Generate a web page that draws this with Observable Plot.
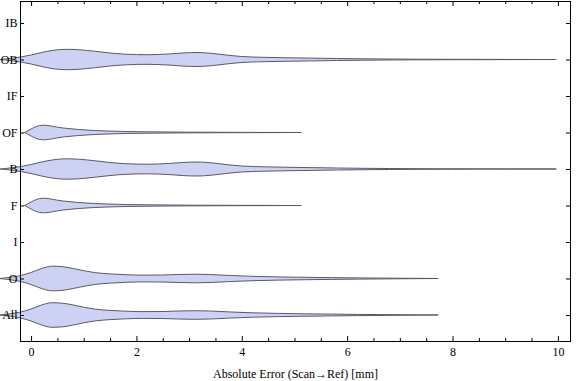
<!DOCTYPE html>
<html><head><meta charset="utf-8">
<script src="https://cdn.jsdelivr.net/npm/d3@7"></script>
<script src="https://cdn.jsdelivr.net/npm/@observablehq/plot@0.6"></script>
<style>body{margin:0;background:#fff} #chart{width:576px;height:381px}</style>
</head><body><div id="chart"></div>
<script>
// Categories, bottom to top
const categories = ["All", "O", "I", "F", "B", "OF", "IF", "OB", "IB"];
const xMajorTicks = [0, 2, 4, 6, 8, 10];
const xMinorTicks = [0.5, 1, 1.5, 2.5, 3, 3.5, 4.5, 5, 5.5, 6.5, 7, 7.5, 8.5, 9, 9.5];
const xLabel = "Absolute Error (Scan\u2192Ref) [mm]";

// Estimated density profiles (x in mm, half-width in relative density units)
const obX = [-0.58, -0.4, -0.2, 0, 0.2, 0.4, 0.65, 0.9, 1.2, 1.5, 1.8, 2.2, 2.6, 2.9, 3.15, 3.4, 3.7, 4.0, 4.4, 4.8, 5.3, 5.8, 6.3, 6.8, 7.4, 8.0, 9.0, 9.97];
const obW = [0, 1.0, 2.5, 4.5, 7.0, 9.0, 10.2, 9.8, 8.3, 6.5, 5.3, 4.8, 5.5, 6.6, 7.0, 6.3, 4.5, 3.0, 2.2, 1.8, 1.4, 1.0, 0.7, 0.5, 0.3, 0.2, 0.1, 0];
const bX = [-0.58, -0.4, -0.2, 0, 0.2, 0.4, 0.65, 0.9, 1.2, 1.5, 1.8, 2.2, 2.6, 2.9, 3.15, 3.4, 3.7, 4.0, 4.4, 4.8, 5.3, 5.8, 6.3, 6.8, 7.4, 8.0, 9.0, 9.97];
const bW = [0, 1.0, 2.5, 4.5, 7.0, 9.0, 10.2, 9.8, 8.3, 6.5, 5.3, 4.8, 5.5, 6.6, 7.0, 6.3, 4.5, 3.0, 2.2, 1.8, 1.4, 1.0, 0.7, 0.5, 0.3, 0.2, 0.1, 0];
const ofX = [-0.12, 0, 0.1, 0.22, 0.35, 0.5, 0.7, 0.9, 1.2, 1.5, 1.8, 2.2, 2.6, 3.0, 3.5, 4.0, 4.5, 5.13];
const ofW = [0, 3.5, 6.0, 7.3, 6.8, 5.3, 4.0, 3.0, 2.0, 1.4, 1.0, 0.7, 0.5, 0.35, 0.25, 0.15, 0.1, 0];
const fX = [-0.12, 0, 0.1, 0.22, 0.35, 0.5, 0.7, 0.9, 1.2, 1.5, 1.8, 2.2, 2.6, 3.0, 3.5, 4.0, 4.5, 5.13];
const fW = [0, 3.5, 6.0, 7.3, 6.8, 5.3, 4.0, 3.0, 2.0, 1.4, 1.0, 0.7, 0.5, 0.35, 0.25, 0.15, 0.1, 0];
const oX = [-0.6, -0.4, -0.2, 0, 0.2, 0.4, 0.6, 0.8, 1.0, 1.2, 1.5, 1.8, 2.1, 2.5, 2.8, 3.1, 3.4, 3.8, 4.2, 4.7, 5.2, 5.7, 6.2, 6.7, 7.2, 7.73];
const oW = [0, 1.2, 3.0, 6.0, 10.0, 12.3, 11.8, 10.0, 7.8, 6.0, 4.6, 3.8, 3.4, 3.5, 4.0, 4.3, 4.0, 3.0, 2.2, 1.6, 1.2, 0.9, 0.6, 0.4, 0.2, 0];
const allX = [-0.6, -0.4, -0.2, 0, 0.2, 0.4, 0.6, 0.8, 1.0, 1.2, 1.5, 1.8, 2.1, 2.5, 2.8, 3.1, 3.4, 3.8, 4.2, 4.7, 5.2, 5.7, 6.2, 6.7, 7.2, 7.73];
const allW = [0, 1.2, 3.0, 6.0, 10.0, 12.3, 11.8, 10.0, 7.8, 6.0, 4.6, 3.8, 3.4, 3.5, 4.0, 4.3, 4.0, 3.0, 2.2, 1.6, 1.2, 0.9, 0.6, 0.4, 0.2, 0];

const series = [
  {cat: "OB", x: obX, w: obW},
  {cat: "OF", x: ofX, w: ofW},
  {cat: "B", x: bX, w: bW},
  {cat: "F", x: fX, w: fW},
  {cat: "O", x: oX, w: oW},
  {cat: "All", x: allX, w: allW}
];

// Layout
const W = 576, H = 381, mT = 1, mB = 40, mL = 20, mR = 6;
const fh = H - mT - mB, fw = W - mL - mR;
const yDomain = [0.288, 9.603];
const unitPerW = (yDomain[1] - yDomain[0]) / fh; // density unit -> y units

const rows = [];
for (const s of series) {
  const k = categories.indexOf(s.cat) + 1;
  s.x.forEach((x, i) => rows.push({cat: s.cat, k, x, w: s.w[i]}));
}
const catIdx = categories.map((c, i) => i + 1);

const font = "'Liberation Serif', 'Times New Roman', serif";
const chart = Plot.plot({
  width: W, height: H,
  marginTop: mT, marginBottom: mB, marginLeft: mL, marginRight: mR,
  style: {fontFamily: font, fontSize: "12px", color: "#000", background: "#fff"},
  x: {domain: [-0.21, 10.23]},
  y: {domain: yDomain},
  marks: [
    Plot.areaY(rows, {
      x: "x",
      y1: d => d.k - d.w * unitPerW,
      y2: d => d.k + d.w * unitPerW,
      z: "cat",
      curve: "monotone-x",
      fill: "#cdd1f4",
      stroke: "#5a5a66",
      strokeWidth: 1
    }),
    Plot.frame({stroke: "#000", strokeWidth: 1}),
    Plot.ruleX(xMajorTicks, {x: d => d, stroke: "#000", insetTop: fh - 5}),
    Plot.ruleX(xMajorTicks, {x: d => d, stroke: "#000", insetBottom: fh - 5}),
    Plot.ruleX(xMinorTicks, {x: d => d, stroke: "#000", insetTop: fh - 3}),
    Plot.ruleX(xMinorTicks, {x: d => d, stroke: "#000", insetBottom: fh - 3}),
    Plot.ruleY(catIdx, {y: d => d, stroke: "#000", insetRight: fw - 4}),
    Plot.ruleY(catIdx, {y: d => d, stroke: "#000", insetLeft: fw - 4}),
    Plot.axisX(xMajorTicks, {
      tickSize: 0, tickPadding: 6, fontSize: 12,
      label: xLabel, labelAnchor: "center", labelOffset: 36, labelArrow: "none"
    }),
    Plot.axisY(catIdx, {
      tickSize: 0, tickPadding: 3, fontSize: 12,
      tickFormat: i => categories[i - 1], label: null
    })
  ]
});
document.getElementById("chart").appendChild(chart);
</script>
</body></html>
